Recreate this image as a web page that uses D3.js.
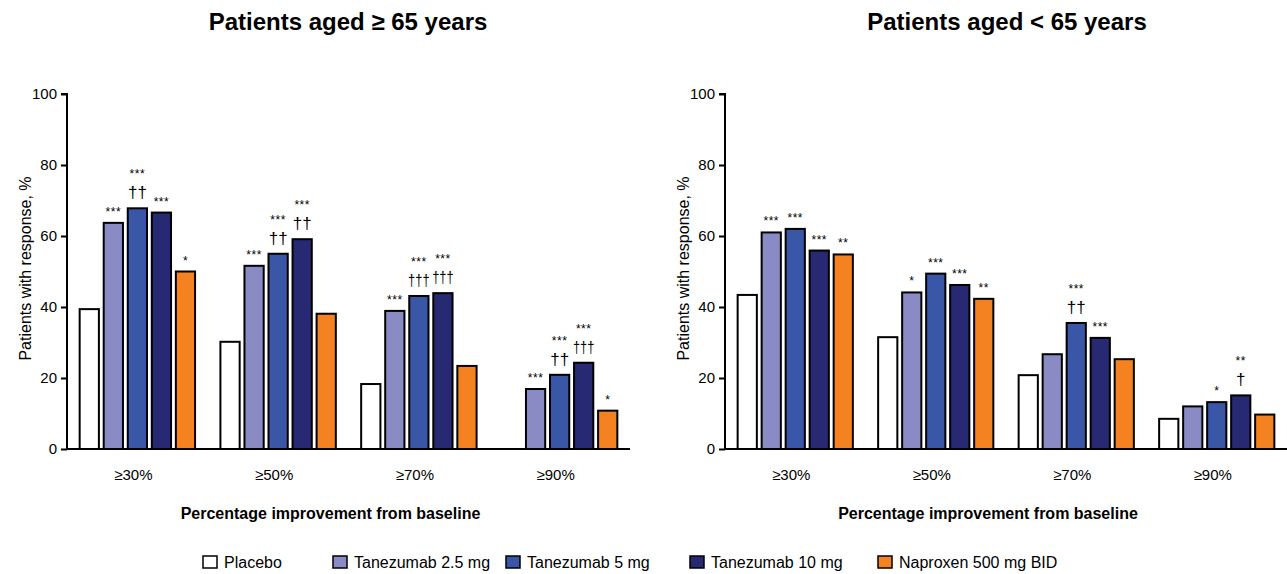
<!DOCTYPE html>
<html><head><meta charset="utf-8">
<script src="https://cdn.jsdelivr.net/npm/d3@7"></script>
<style>body{margin:0;background:#fff}svg{display:block;font-family:"Liberation Sans",Arial,sans-serif}</style>
</head><body><svg id="c" width="1287" height="574"></svg>
<script>
const groups = ["≥30%", "≥50%", "≥70%", "≥90%"];
const series = ["Placebo", "Tanezumab 2.5 mg", "Tanezumab 5 mg", "Tanezumab 10 mg", "Naproxen 500 mg BID"];
const colors = ["#ffffff", "#8a8bc4", "#3a56a7", "#272a72", "#f58221"];
const yTicks = [0, 20, 40, 60, 80, 100];

// values per group: [Placebo, T2.5, T5, T10, Naproxen]
const olderValues = [
  [39.4, 63.7, 67.8, 66.6, 50.0],
  [30.2, 51.6, 55.0, 59.1, 38.1],
  [18.3, 38.9, 43.1, 43.9, 23.4],
  [null, 16.9, 20.9, 24.3, 10.8]
];
const olderStars = [
  ["", "***", "***", "***", "*"],
  ["", "***", "***", "***", ""],
  ["", "***", "***", "***", ""],
  ["", "***", "***", "***", "*"]
];
const olderDaggers = [
  ["", "", "††", "", ""],
  ["", "", "††", "††", ""],
  ["", "", "†††", "†††", ""],
  ["", "", "††", "†††", ""]
];
const youngerValues = [
  [43.4, 61.0, 62.0, 55.9, 54.8],
  [31.5, 44.1, 49.4, 46.2, 42.3],
  [20.8, 26.7, 35.5, 31.3, 25.3],
  [8.5, 12.0, 13.2, 15.1, 9.7]
];
const youngerStars = [
  ["", "***", "***", "***", "**"],
  ["", "*", "***", "***", "**"],
  ["", "", "***", "***", ""],
  ["", "", "*", "**", ""]
];
const youngerDaggers = [
  ["", "", "", "", ""],
  ["", "", "", "", ""],
  ["", "", "††", "", ""],
  ["", "", "", "†", ""]
];

const svg = d3.select("#c");

function panel(opts) {
  const {x0, x1, title, titleX, values, stars, daggers} = opts;
  const top = 94, bottom = 449;
  const y = d3.scaleLinear().domain([0, 100]).range([bottom, top]);
  const xg = d3.scaleBand().domain(groups).range([x0, x1]).paddingInner(0.18).paddingOuter(0.09);
  const xs = d3.scaleBand().domain(series).range([0, xg.bandwidth()]).paddingInner(0.2);
  const g = svg.append("g");

  g.append("text").attr("x", titleX).attr("y", 30).attr("text-anchor", "middle")
    .attr("font-size", 24).attr("font-weight", "bold").text(title);

  groups.forEach((grp, gi) => {
    series.forEach((s, si) => {
      const v = values[gi][si];
      if (v == null) return;
      const bx = xg(grp) + xs(s), bw = xs.bandwidth();
      g.append("rect").attr("x", bx).attr("y", y(v)).attr("width", bw).attr("height", bottom - y(v))
        .attr("fill", colors[si]).attr("stroke", "#000").attr("stroke-width", 2);
      const cx = bx + bw / 2;
      const dg = daggers[gi][si], st = stars[gi][si];
      if (dg) {
        const sx = dg.length >= 3 ? 0.76 : 1;
        g.append("text").attr("transform", `translate(${cx},${y(v) - 10}) scale(${sx},1)`)
          .attr("text-anchor", "middle").attr("font-size", 17).text(dg);
      }
      if (st) {
        g.append("text").attr("x", cx).attr("y", y(v) - (dg ? 30 : 7)).attr("text-anchor", "middle")
          .attr("font-size", 12).attr("letter-spacing", 0.5).text(st);
      }
    });
  });

  const ya = d3.axisLeft(y).tickValues(yTicks).tickSize(6).tickPadding(4);
  const yg = g.append("g").attr("transform", `translate(${x0},0)`).call(ya);
  yg.select(".domain").attr("stroke-width", 2).attr("d", `M-6,${top}H0V${bottom}`);
  yg.selectAll(".tick line").attr("stroke-width", 2);
  yg.selectAll(".tick text").attr("font-size", 15).attr("font-family", "Liberation Sans, Arial, sans-serif").attr("fill", "#000");

  const xa = d3.axisBottom(xg).tickSize(0).tickPadding(20);
  const xgx = g.append("g").attr("transform", `translate(0,${bottom})`).call(xa);
  xgx.select(".domain").attr("stroke-width", 2).attr("d", `M${x0},0H${x1}`);
  xgx.selectAll(".tick text").attr("font-size", 15).attr("font-family", "Liberation Sans, Arial, sans-serif").attr("fill", "#000").attr("dx", -4);

  g.append("text").attr("x", (x0 + x1) / 2 - 18).attr("y", 519).attr("text-anchor", "middle")
    .attr("font-size", 16).attr("font-weight", "bold").text("Percentage improvement from baseline");

  g.append("text").attr("transform", `translate(${x0 - 36},${(top + bottom) / 2 - 3}) rotate(-90)`)
    .attr("text-anchor", "middle").attr("font-size", 16).text("Patients with response, %");
}

panel({x0: 67, x1: 630, title: "Patients aged ≥ 65 years", titleX: 348,
  values: olderValues, stars: olderStars, daggers: olderDaggers});
panel({x0: 725, x1: 1287, title: "Patients aged < 65 years", titleX: 1007,
  values: youngerValues, stars: youngerStars, daggers: youngerDaggers});

const legendX = [203, 333, 506, 690, 878];
const lg = svg.append("g");
series.forEach((s, i) => {
  lg.append("rect").attr("x", legendX[i]).attr("y", 556).attr("width", 14).attr("height", 12)
    .attr("fill", colors[i]).attr("stroke", "#000").attr("stroke-width", 1.5);
  lg.append("text").attr("x", legendX[i] + 21).attr("y", 568).attr("font-size", 16).text(s);
});
</script></body></html>
